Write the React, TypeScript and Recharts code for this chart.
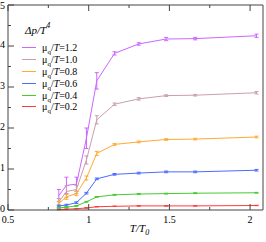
import {
  LineChart, Line, XAxis, YAxis, ErrorBar,
} from "recharts";

// T/T0 values of the lattice points
const tRatio = [0.815, 0.862, 0.924, 0.986, 1.05, 1.16, 1.31, 1.48, 1.66, 2.04];

// Δp/T^4 for each μq/T
const mu12 = [0.35, 0.6, 0.63, 1.75, 3.15, 3.82, 4.05, 4.17, 4.18, 4.25];
const err12 = [0.15, 0.2, 0.17, 0.25, 0.2, 0.04, 0.03, 0.04, 0.03, 0.04];
const mu10 = [0.2, 0.45, 0.5, 1.22, 2.2, 2.58, 2.71, 2.79, 2.8, 2.86];
const err10 = [0.08, 0.14, 0.1, 0.1, 0.1, 0.03, 0.03, 0.02, 0.02, 0.03];
const mu08 = [0.16, 0.32, 0.4, 0.78, 1.38, 1.6, 1.66, 1.72, 1.73, 1.78];
const err08 = [0.05, 0.06, 0.05, 0.05, 0.05, 0.02, 0.02, 0.02, 0.02, 0.02];
const mu06 = [0.1, 0.12, 0.18, 0.41, 0.76, 0.87, 0.9, 0.93, 0.93, 0.97];
const err06 = [0.02, 0.02, 0.02, 0.02, 0.02, 0.02, 0.02, 0.02, 0.02, 0.02];
const mu04 = [0.05, 0.07, 0.1, 0.2, 0.32, 0.37, 0.39, 0.4, 0.41, 0.42];
const err04 = [0.01, 0.01, 0.01, 0.01, 0.01, 0.01, 0.01, 0.01, 0.01, 0.01];
const mu02 = [0.01, 0.02, 0.03, 0.05, 0.08, 0.09, 0.1, 0.1, 0.1, 0.11];
const err02 = [0.005, 0.005, 0.005, 0.005, 0.005, 0.005, 0.005, 0.005, 0.005, 0.005];

const xTicks = [0.5, 0.75, 1, 1.25, 1.5, 1.75, 2];
const xMajor = [0.5, 1, 1.5, 2];
const yTicks = [0, 0.5, 1, 1.5, 2, 2.5, 3, 3.5, 4, 4.5, 5];
const yMajor = [0, 1, 2, 3, 4, 5];

const seriesKeys = ["m12", "m10", "m08", "m06", "m04", "m02"];
const seriesLabels = ["1.2", "1.0", "0.8", "0.6", "0.4", "0.2"];
const COLORS = ["#cc66ff", "#c9a0aa", "#ffaa33", "#4d6bff", "#44cc33", "#ff3b3b"];

const values = [mu12, mu10, mu08, mu06, mu04, mu02];
const errors = [err12, err10, err08, err06, err04, err02];

const data = tRatio.map((t, i) => {
  const row: Record<string, number> = { t };
  seriesKeys.forEach((k, s) => {
    row[k] = values[s][i];
    row[k + "e"] = errors[s][i];
  });
  return row;
});

const FRAME = "#444";
const SERIF = "'Liberation Serif', 'DejaVu Serif', serif";

function BottomTick(props: any) {
  const { x, y, payload } = props;
  const major = xMajor.includes(payload.value);
  return (
    <g>
      <line x1={x} y1={y} x2={x} y2={y - (major ? 6 : 3)} stroke={FRAME} />
      {major && (
        <text x={x} y={y + 13} textAnchor="middle" fontSize={10} fontFamily={SERIF} fill="#000">
          {payload.value}
        </text>
      )}
    </g>
  );
}

function TopTick(props: any) {
  const { x, y, payload } = props;
  const major = xMajor.includes(payload.value);
  return <line x1={x} y1={y} x2={x} y2={y + (major ? 6 : 3)} stroke={FRAME} />;
}

function LeftTick(props: any) {
  const { x, y, payload } = props;
  const major = yMajor.includes(payload.value);
  return (
    <g>
      <line x1={x} y1={y} x2={x + (major ? 6 : 3)} y2={y} stroke={FRAME} />
      {major && (
        <text x={x - 3} y={Math.max(y + 2, 9)} textAnchor="end" fontSize={10} fontFamily={SERIF} fill="#000">
          {payload.value}
        </text>
      )}
    </g>
  );
}

function RightTick(props: any) {
  const { x, y, payload } = props;
  const major = yMajor.includes(payload.value);
  return <line x1={x} y1={y} x2={x - (major ? 6 : 3)} y2={y} stroke={FRAME} />;
}

function LegendBox() {
  return (
    <div style={{ position: "absolute", left: 22, top: 42, fontFamily: SERIF, fontSize: 10, color: "#000" }}>
      {seriesLabels.map((lab, i) => (
        <div key={lab} style={{ display: "flex", alignItems: "center", height: 11.8, whiteSpace: "nowrap" }}>
          <span style={{ display: "inline-block", width: 14, height: 1, background: COLORS[i], marginRight: 6 }} />
          <span style={{ lineHeight: "11px" }}>
            μ<sub style={{ fontSize: 7, lineHeight: 0 }}>q</sub>/<i>T</i>={lab}
          </span>
        </div>
      ))}
    </div>
  );
}

export default function App() {
  return (
    <div style={{ position: "absolute", left: 0, top: 0, width: 266, height: 242, background: "#fff" }}>
      <LineChart
        width={266}
        height={242}
        data={data}
        margin={{ top: 4, right: 2, left: 7, bottom: 0 }}
      >
        <XAxis
          xAxisId="b"
          dataKey="t"
          type="number"
          domain={[0.5, 2.08]}
          ticks={xTicks}
          interval={0}
          height={32}
          tickSize={0}
          tickMargin={0}
          axisLine={{ stroke: FRAME }}
          tick={(p: any) => <BottomTick {...p} />}
          label={{
            content: (lp: any) => {
              const vb = lp.viewBox;
              return (
                <text x={vb.x + vb.width / 2 + 4} y={vb.y + 22} textAnchor="middle" fontFamily={SERIF} fontSize={11} fontStyle="italic">
                  T/T<tspan fontSize={8} dy={3}>0</tspan>
                </text>
              );
            },
          }}
        />
        <XAxis
          xAxisId="top"
          dataKey="t"
          type="number"
          orientation="top"
          domain={[0.5, 2.08]}
          ticks={xTicks}
          interval={0}
          height={1}
          tickSize={0}
          tickMargin={0}
          axisLine={{ stroke: FRAME }}
          tick={(p: any) => <TopTick {...p} />}
        />
        <YAxis
          yAxisId="l"
          type="number"
          domain={[0, 5]}
          ticks={yTicks}
          interval={0}
          width={1}
          tickSize={0}
          tickMargin={0}
          axisLine={{ stroke: FRAME }}
          tick={(p: any) => <LeftTick {...p} />}
          label={{
            content: (lp: any) => {
              const vb = lp.viewBox;
              return (
                <text x={vb.x + 18} y={vb.y + 29} fontFamily={SERIF} fontSize={11} fontStyle="italic">
                  Δp/T<tspan fontSize={8} dy={-6}>4</tspan>
                </text>
              );
            },
          }}
        />
        <YAxis
          yAxisId="r"
          orientation="right"
          type="number"
          domain={[0, 5]}
          ticks={yTicks}
          interval={0}
          width={1}
          tickSize={0}
          tickMargin={0}
          axisLine={{ stroke: FRAME }}
          tick={(p: any) => <RightTick {...p} />}
        />
        {seriesKeys.map((k, i) => (
          <Line
            key={k}
            xAxisId="b"
            yAxisId="l"
            dataKey={k}
            type="linear"
            stroke={COLORS[i]}
            strokeWidth={1}
            dot={false}
            isAnimationActive={false}
          >
            <ErrorBar dataKey={k + "e"} direction="y" width={2} stroke={COLORS[i]} strokeWidth={1} />
          </Line>
        ))}
      </LineChart>
      <LegendBox />
    </div>
  );
}
